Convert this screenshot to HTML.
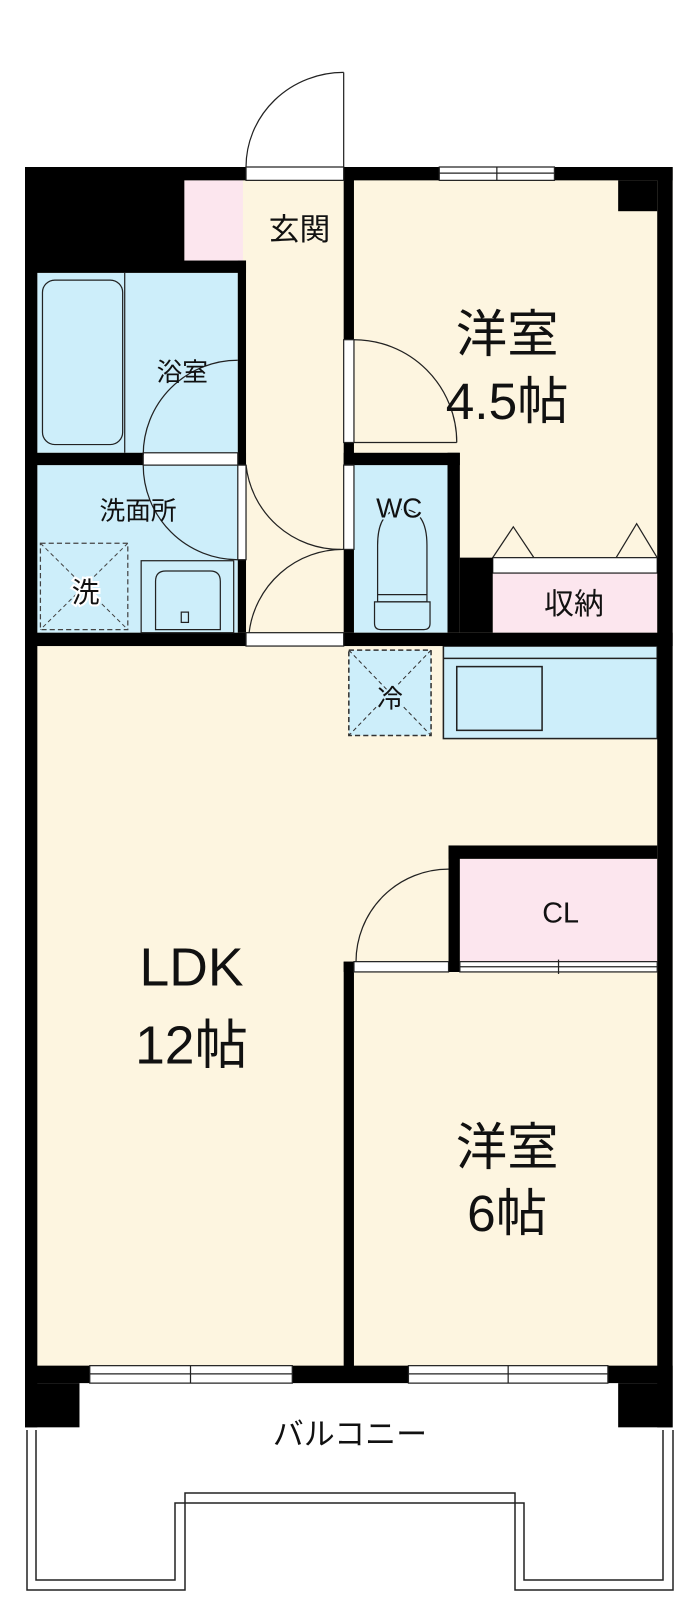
<!DOCTYPE html>
<html><head><meta charset="utf-8"><style>
html,body{margin:0;padding:0;background:#fff;}
svg{display:block;}
text{font-family:"Liberation Sans","Noto Sans CJK JP",sans-serif;fill:#111;}
</style></head><body>
<svg width="700" height="1614" viewBox="0 0 700 1614" xmlns="http://www.w3.org/2000/svg">
<!-- balcony (real coords) -->
<path d="M27 1430 V1590 H185 V1493 H515 V1590 H673 V1430" fill="none" stroke="#222" stroke-width="1.5"/>
<path d="M36 1430 V1580 H175 V1503 H524 V1580 H663 V1430" fill="none" stroke="#222" stroke-width="1.5"/>
<g transform="translate(25,167) scale(1.028) translate(-25,-162)">
<rect x="25" y="162" width="630" height="1178" fill="#fdf5e0"/>
<rect x="180" y="175" width="57" height="78" fill="#fce6ee"/>
<rect x="37" y="265" width="195" height="175" fill="#cdeefa"/>
<rect x="37" y="452" width="195" height="163" fill="#cdeefa"/>
<rect x="345" y="452" width="91" height="163" fill="#cdeefa"/>
<rect x="480" y="557" width="160" height="58" fill="#fce6ee"/>
<rect x="480" y="542" width="160" height="15" fill="#fff" stroke="#222" stroke-width="1.2"/>
<rect x="448" y="835" width="192" height="100" fill="#fce6ee"/>
<rect x="432" y="628" width="208" height="90" fill="#cdeefa" stroke="#222" stroke-width="1.5"/>
<line x1="432" y1="640" x2="640" y2="640" stroke="#222" stroke-width="1.5"/>
<rect x="445" y="648" width="83" height="62" fill="#cdeefa" stroke="#222" stroke-width="1.5"/>
<rect x="340" y="632" width="80" height="83" fill="#cdeefa" stroke="#333" stroke-width="1.5" stroke-dasharray="5,3"/>
<line x1="340" y1="632" x2="420" y2="715" stroke="#333" stroke-width="1" stroke-dasharray="4,3"/>
<line x1="420" y1="632" x2="340" y2="715" stroke="#333" stroke-width="1" stroke-dasharray="4,3"/>
<g fill="#000">
<rect x="25" y="162" width="215" height="13"/>
<rect x="25" y="162" width="155" height="93"/>
<rect x="335" y="162" width="320" height="13"/>
<rect x="25" y="162" width="12" height="1226"/>
<rect x="640" y="162" width="15" height="1226"/>
<rect x="602" y="175" width="38" height="30"/>
<rect x="25" y="253" width="215" height="12"/>
<rect x="232" y="253" width="8" height="362"/>
<rect x="335" y="162" width="10" height="453"/>
<rect x="25" y="440" width="215" height="12"/>
<rect x="335" y="440" width="113" height="12"/>
<rect x="436" y="440" width="12" height="175"/>
<rect x="448" y="542" width="32" height="73"/>
<rect x="25" y="615" width="630" height="13"/>
<rect x="437" y="822" width="203" height="13"/>
<rect x="437" y="822" width="11" height="123"/>
<rect x="335" y="935" width="113" height="10"/>
<rect x="335" y="935" width="10" height="405"/>
<rect x="25" y="1328" width="630" height="17"/>
<rect x="25" y="1345" width="53" height="43"/>
<rect x="602" y="1345" width="53" height="43"/>
</g>
<g fill="#fff" stroke="#222" stroke-width="1.2">
<rect x="240" y="162" width="95" height="13"/>
<rect x="428" y="162" width="112" height="13"/>
<rect x="240" y="615" width="95" height="13"/>
<rect x="140" y="440" width="92" height="12"/>
<rect x="335" y="330" width="10" height="100"/>
<rect x="232" y="452" width="8" height="92"/>
<rect x="335" y="452" width="10" height="82"/>
<rect x="345" y="935" width="92" height="10"/>
<rect x="448" y="935" width="192" height="10"/>
<rect x="88" y="1328" width="197" height="17"/>
<rect x="398" y="1328" width="194" height="17"/>
</g>
<g stroke="#222" stroke-width="1.2" fill="none">
<line x1="428" y1="168" x2="540" y2="168"/><line x1="484" y1="162" x2="484" y2="175"/>
<line x1="88" y1="1336" x2="285" y2="1336"/><line x1="186" y1="1328" x2="186" y2="1345"/>
<line x1="398" y1="1336" x2="592" y2="1336"/><line x1="495" y1="1328" x2="495" y2="1345"/>
<line x1="448" y1="940" x2="640" y2="940"/><line x1="544" y1="933" x2="544" y2="947"/>
<line x1="335" y1="70" x2="335" y2="162"/>
<path d="M335 70 A95 92 0 0 0 240 162"/>
<path d="M345 330 A100 100 0 0 1 445 430"/>
<line x1="345" y1="430" x2="445" y2="430"/>
<path d="M232 350 A92 92 0 0 0 140 442"/>
<path d="M140 452 A92 92 0 0 0 232 544"/>
<path d="M240 452 A92 92 0 0 0 332 534"/>
<path d="M335 534 A92 92 0 0 0 243 615"/>
<path d="M437 845 A90 90 0 0 0 347 935"/>
<path d="M480 542 L500 512 L520 542 M600 542 L620 509 L640 542"/>
<rect x="42" y="272" width="78" height="160" rx="12" fill="#cdeefa"/>
<line x1="122" y1="265" x2="122" y2="440"/>
<rect x="138" y="545" width="90" height="70"/>
<path d="M152 612 V565 Q152 555 162 555 H205 Q215 555 215 565 V612 Z"/>
<rect x="177" y="595" width="7" height="10"/>
<path d="M368 585 V530 Q368 495 392 495 Q416 495 416 530 V585 Z"/>
<path d="M365 585 H419 V606 Q419 612 413 612 H371 Q365 612 365 606 Z"/>
<line x1="368" y1="578" x2="416" y2="578"/>
</g>
<rect x="40" y="528" width="85" height="84" fill="none" stroke="#444" stroke-width="1.2" stroke-dasharray="5,3"/>
<line x1="40" y1="528" x2="125" y2="612" stroke="#444" stroke-width="1" stroke-dasharray="4,3"/>
<line x1="125" y1="528" x2="40" y2="612" stroke="#444" stroke-width="1" stroke-dasharray="4,3"/>
<g text-anchor="middle">
<text x="292" y="233" font-size="30">玄関</text>
<text x="178" y="370" font-size="25">浴室</text>
<text x="135" y="505" font-size="25">洗面所</text>
<text x="84" y="585" font-size="27" stroke="#fff" stroke-width="4" paint-order="stroke">洗</text>
<text x="389" y="503" font-size="27" stroke="#cdeefa" stroke-width="4" paint-order="stroke">WC</text>
<text x="380" y="688" font-size="25" stroke="#cdeefa" stroke-width="4" paint-order="stroke">冷</text>
<text x="559" y="597" font-size="29">収納</text>
<text x="494" y="342" font-size="50">洋室</text>
<text x="494" y="407" font-size="50">4.5帖</text>
<text x="546" y="897" font-size="28">CL</text>
<text x="187" y="958" font-size="52">LDK</text>
<text x="187" y="1034" font-size="52">12帖</text>
<text x="494" y="1133" font-size="50">洋室</text>
<text x="494" y="1197" font-size="50">6帖</text>
</g>
</g>
<text x="350" y="1445" font-size="31" text-anchor="middle">バルコニー</text>
</svg>
</body></html>
